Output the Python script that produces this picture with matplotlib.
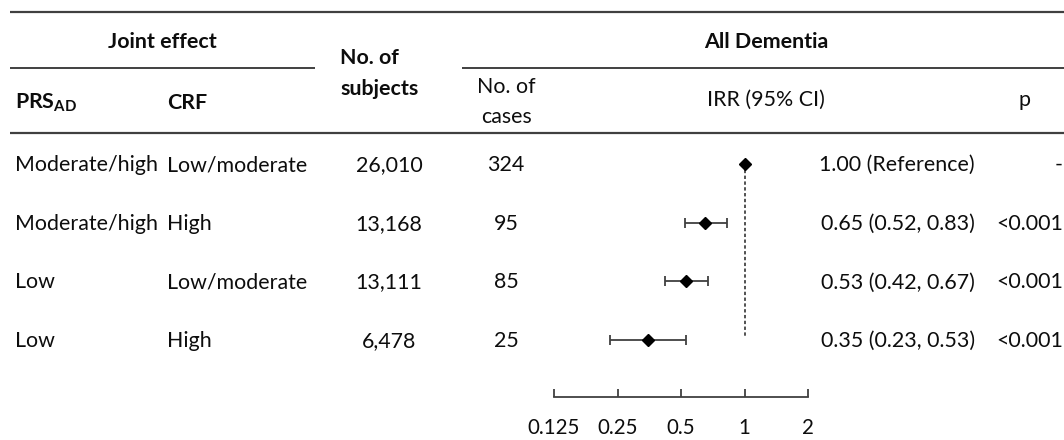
import matplotlib
matplotlib.use("Agg")
import matplotlib.pyplot as plt
from matplotlib.ticker import FixedLocator, FixedFormatter, NullLocator

# ---------------- data ----------------
prs_groups = ["Moderate/high", "Moderate/high", "Low", "Low"]
crf_groups = ["Low/moderate", "High", "Low/moderate", "High"]
n_subjects = ["26,010", "13,168", "13,111", "6,478"]
n_cases = ["324", "95", "85", "25"]
irr = [1.00, 0.65, 0.53, 0.35]
ci_low = [1.00, 0.52, 0.42, 0.23]
ci_high = [1.00, 0.83, 0.67, 0.53]
irr_text = ["1.00 (Reference)", "0.65 (0.52, 0.83)", "0.53 (0.42, 0.67)", "0.35 (0.23, 0.53)"]
p_text = ["-", "<0.001", "<0.001", "<0.001"]
tick_vals = [0.125, 0.25, 0.5, 1, 2]
tick_labels = ["0.125", "0.25", "0.5", "1", "2"]

# ---------------- style ----------------
plt.rcParams["font.family"] = ["Lato", "DejaVu Sans"]
plt.rcParams["mathtext.fontset"] = "custom"
plt.rcParams["mathtext.rm"] = "Lato"
plt.rcParams["mathtext.bf"] = "Lato:bold"
FS = 15.4
FS_TICK = 14.8
LINE_C = "#404040"
TXT_C = "#0d0d0d"

W, H = 1064, 440
fig = plt.figure(figsize=(W / 100, H / 100), dpi=100)
fig.patch.set_facecolor("white")

# table axes in pixel coordinates
tab = fig.add_axes([0, 0, 1, 1])
tab.set_xlim(0, W)
tab.set_ylim(H, 0)
tab.axis("off")

# rules
tab.plot([10, W], [12, 12], color=LINE_C, lw=1.6, solid_capstyle="butt")
tab.plot([10, 315], [68, 68], color=LINE_C, lw=1.4, solid_capstyle="butt")
tab.plot([462, W], [68, 68], color=LINE_C, lw=1.4, solid_capstyle="butt")
tab.plot([10, W], [133, 133], color=LINE_C, lw=1.6, solid_capstyle="butt")

# header text
tab.text(162, 42, "Joint effect", ha="center", va="center", fontsize=FS, fontweight="bold", color=TXT_C)
tab.text(340, 58, "No. of", ha="left", va="center", fontsize=FS, fontweight="bold", color=TXT_C)
tab.text(340, 89, "subjects", ha="left", va="center", fontsize=FS, fontweight="bold", color=TXT_C)
tab.text(766, 42, "All Dementia", ha="center", va="center", fontsize=FS, fontweight="bold", color=TXT_C)
tab.text(15, 103, r"$\mathbf{PRS}_{\mathbf{AD}}$", ha="left", va="center", fontsize=FS, color=TXT_C)
tab.text(167, 103, "CRF", ha="left", va="center", fontsize=FS, fontweight="bold", color=TXT_C)
tab.text(506, 87, "No. of", ha="center", va="center", fontsize=FS, color=TXT_C)
tab.text(506, 117, "cases", ha="center", va="center", fontsize=FS, color=TXT_C)
tab.text(766, 100, "IRR (95% CI)", ha="center", va="center", fontsize=FS, color=TXT_C)
tab.text(1025, 100, "p", ha="center", va="center", fontsize=FS, color=TXT_C)

# row positions (pixels)
row_y0, row_dy = 164, 58.7
for i in range(len(irr)):
    y = row_y0 + 1 + i * row_dy
    tab.text(15, y, prs_groups[i], ha="left", va="center", fontsize=FS, color=TXT_C)
    tab.text(167, y, crf_groups[i], ha="left", va="center", fontsize=FS, color=TXT_C)
    tab.text(389, y, n_subjects[i], ha="center", va="center", fontsize=FS, color=TXT_C)
    tab.text(506, y, n_cases[i], ha="center", va="center", fontsize=FS, color=TXT_C)
    tab.text(975, y, irr_text[i], ha="right", va="center", fontsize=FS, color=TXT_C)
    tab.text(1063, y, p_text[i], ha="right", va="center", fontsize=FS, color=TXT_C)

# forest axes: x 0.125 -> 554 px, 2 -> 808 px; axis line at 397 px, top at 140 px
x0, x1 = 554, 808
yb, yt = 397, 140
fax = fig.add_axes([x0 / W, 1 - yb / H, (x1 - x0) / W, (yb - yt) / H])
fax.patch.set_alpha(0)
fax.set_xscale("log", base=2)
fax.set_xlim(tick_vals[0], tick_vals[-1])
top_idx = -(row_y0 - yt) / row_dy
bot_idx = (yb - row_y0) / row_dy
fax.set_ylim(bot_idx, top_idx)
for s in ["top", "left", "right"]:
    fax.spines[s].set_visible(False)
fax.spines["bottom"].set_color(LINE_C)
fax.spines["bottom"].set_linewidth(1.3)
fax.xaxis.set_major_locator(FixedLocator(tick_vals))
fax.xaxis.set_major_formatter(FixedFormatter(tick_labels))
fax.xaxis.set_minor_locator(NullLocator())
fax.yaxis.set_major_locator(NullLocator())
fax.tick_params(axis="x", direction="in", length=6, width=1.3, color=LINE_C,
                labelsize=FS_TICK, labelcolor=TXT_C, pad=15)

rows = list(range(len(irr)))
# reference line
fax.vlines(1, rows[0], rows[-1] - 0.05, colors="#222222", linestyles=(0, (2.2, 1.6)), lw=1.1)
# CIs (skip reference row)
for i in rows:
    if ci_low[i] != ci_high[i]:
        fax.errorbar(irr[i], i, xerr=[[irr[i] - ci_low[i]], [ci_high[i] - irr[i]]],
                     fmt="none", ecolor=LINE_C, elinewidth=1.3, capsize=3.5, capthick=1.3)
fax.plot(irr, rows, linestyle="none", marker="D", markersize=5.8, color="black", zorder=5)

fig.savefig("out.png", dpi=100, facecolor="white")
